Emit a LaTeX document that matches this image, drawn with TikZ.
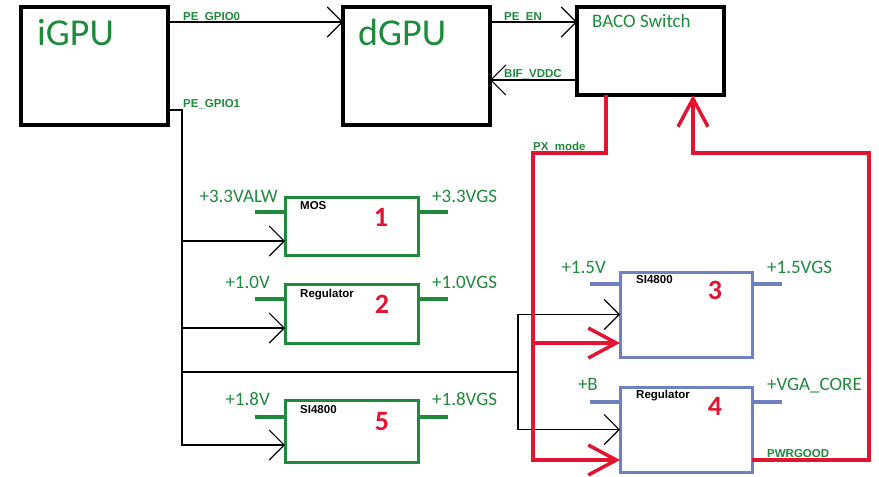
\documentclass[tikz,border=0pt]{standalone}
\usepackage{fontspec}
\setmainfont{Carlito}
\newfontfamily\arialfont{Liberation Sans}
\usepackage{tikz}
\usetikzlibrary{positioning, calc, arrows.meta}
\definecolor{bgreen}{RGB}{30,138,60}
\definecolor{bblue}{RGB}{110,128,192}
\definecolor{bred}{RGB}{226,20,50}

\tikzset{
  gpubox/.style={draw=black, line width=4pt, minimum width=147pt, outer sep=0pt},
  gbox/.style={draw=bgreen, line width=3pt, minimum width=133pt, outer sep=0pt},
  bbox/.style={draw=bblue, line width=3pt, minimum width=132pt, minimum height=85pt, outer sep=0pt},
  gpin/.style={draw=bgreen, line width=3.5pt},
  bpin/.style={draw=bblue, line width=3.5pt},
  wire/.style={line width=1.1pt},
  sig/.style={wire, -{Straight Barb[length=15pt,width=30pt]}},
  pwr/.style={draw=bred, line width=3.5pt},
  pwrarr/.style={pwr, -{Straight Barb[length=28pt,width=30pt]}},
  bigname/.style={text=bgreen, inner sep=0pt, anchor=base west, font=\fontsize{38}{38}\selectfont},
  vlab/.style={text=bgreen, inner sep=0pt, font=\fontsize{19}{19}\selectfont},
  siglab/.style={text=bgreen, inner sep=0pt, anchor=base west, font=\arialfont\bfseries\fontsize{11.5}{11.5}\selectfont},
  partlab/.style={inner sep=0pt, anchor=base west, font=\arialfont\bfseries\fontsize{11.5}{11.5}\selectfont},
  numlab/.style={text=bred, inner sep=0pt, anchor=base, font=\bfseries\fontsize{28}{28}\selectfont}
}

\begin{document}
\begin{tikzpicture}[x=1pt, y=-1pt]
\useasboundingbox (0,0) rectangle (879,477);

% GPUs and switch
\node[gpubox, minimum height=118pt] (igpu) at (94.5,66) {};
\node[gpubox, minimum height=118pt] (dgpu) at (416.5,66) {};
\node[gpubox, minimum height=88pt] (baco) at (650.5,51) {};
\node[bigname] (igpuname) at (37,45) {iGPU};
\node[bigname] (dgpuname) at (358,45) {dGPU};
\node[bigname, font=\fontsize{19}{19}\selectfont] (baconame) at (592,27) {BACO Switch};

% power blocks
\node[gbox, minimum height=58pt] (pwr1) at (351.5,226) {};
\node[gbox, minimum height=59pt] (pwr2) at (351.5,313.5) {};
\node[gbox, minimum height=62pt] (pwr5) at (351.5,431) {};
\node[bbox] (pwr3) at (686,314.5) {};
\node[bbox] (pwr4) at (686,429.5) {};

\node[partlab] (part1) at (300,209) {MOS};
\node[partlab] (part2) at (300,297) {Regulator};
\node[partlab] (part5) at (300,413) {SI4800};
\node[partlab] (part3) at (636,283) {SI4800};
\node[partlab] (part4) at (636,398) {Regulator};

\node[numlab] (num1) at (381,226) {1};
\node[numlab] (num2) at (382,313) {2};
\node[numlab] (num5) at (382,430) {5};
\node[numlab] (num3) at (715,299) {3};
\node[numlab] (num4) at (715,415) {4};

% rails
\foreach \b/\d in {pwr1/15, pwr2/15, pwr5/17} {
  \draw[gpin] ([yshift=-\d pt]\b.north west) -- ++(-30,0);
  \draw[gpin] ([yshift=-\d pt]\b.north east) -- ++(30,0);
}
\foreach \b/\d in {pwr3/12, pwr4/15} {
  \draw[bpin] ([yshift=-\d pt]\b.north west) -- ++(-30,0);
  \draw[bpin] ([yshift=-\d pt]\b.north east) -- ++(30,0);
}
\node[vlab, anchor=base east] (in1) at (278,202) {+3.3VALW};
\node[vlab, anchor=base west] (out1) at (432,202) {+3.3VGS};
\node[vlab, anchor=base east] (in2) at (270,288) {+1.0V};
\node[vlab, anchor=base west] (out2) at (432,288) {+1.0VGS};
\node[vlab, anchor=base east] (in5) at (270,405) {+1.8V};
\node[vlab, anchor=base west] (out5) at (432,405) {+1.8VGS};
\node[vlab, anchor=base east] (in3) at (606,273) {+1.5V};
\node[vlab, anchor=base west] (out3) at (767,273) {+1.5VGS};
\node[vlab, anchor=base east] (in4) at (598,390) {+B};
\node[vlab, anchor=base west] (out4) at (767,390) {+VGA\_CORE};

% control signals
\draw[sig] ([yshift=-15pt]igpu.north east) -- ([yshift=-15pt]dgpu.north west);
\draw[sig] ([yshift=-15pt]dgpu.north east) -- ([yshift=-15pt]baco.north west);
\draw[sig] ([yshift=15pt]baco.south west) -- ([yshift=15pt]baco.south west -| dgpu.east);
\node[siglab] (gpio0) at (183,20) {PE\_GPIO0};
\node[siglab] (peen) at (504,20) {PE\_EN};
\node[siglab] (bif) at (504,77) {BIF\_VDDC};
\node[siglab] (gpio1) at (183,107) {PE\_GPIO1};

\coordinate (trunk) at (182,372);
\coordinate (split) at (518,372);
\coordinate (en1) at ([yshift=14pt]pwr1.south west);
\coordinate (en2) at ([yshift=15pt]pwr2.south west);
\coordinate (en5) at ([yshift=17pt]pwr5.south west);
\draw[sig] ([yshift=15pt]igpu.south east) -| (trunk |- en5) -- (en5);
\foreach \p in {en1, en2} \draw[sig] (trunk |- \p) -- (\p);
\draw[wire] (trunk) -- (split);
\draw[sig] (split) |- (pwr3.west);
\draw[sig] (split) |- (pwr4.west);

% PX mode / power good loop
\coordinate (pxturn) at (533,153);
\coordinate (pgturn) at (869,153);
\coordinate (px3) at ([yshift=14pt]pwr3.south west);
\draw[pwrarr] ([xshift=29pt]baco.south west) |- (pxturn) |- ([yshift=12pt]pwr4.south west);
\draw[pwrarr] (pxturn |- px3) -- (px3);
\draw[pwrarr] ([yshift=12pt]pwr4.south east) -| (pgturn) -| ([xshift=-31pt]baco.south east);
\node[siglab] (pxmode) at (533,150) {PX\_mode};
\node[siglab] (pwrgood) at (767,457) {PWRGOOD};
\end{tikzpicture}
\end{document}
